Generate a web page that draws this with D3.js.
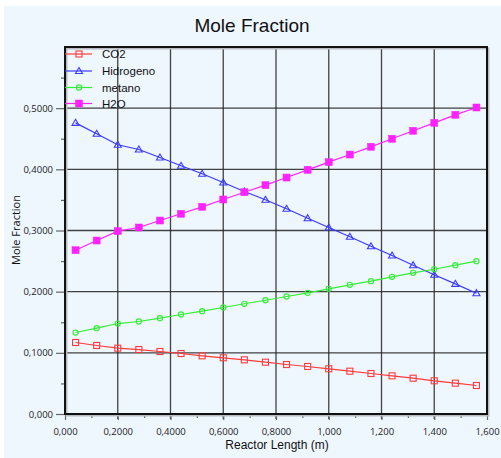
<!DOCTYPE html>
<html>
<head>
<meta charset="utf-8">
<script src="https://cdn.jsdelivr.net/npm/d3@7"></script>
<style>
  html, body { margin: 0; padding: 0; background: #ffffff; }
  svg { display: block; }
</style>
</head>
<body>
<svg id="chart" width="501" height="458"></svg>
<script>
// Reactor length positions (m)
const lengths = [0.04, 0.12, 0.20, 0.28, 0.36, 0.44, 0.52, 0.60, 0.68, 0.76,
                 0.84, 0.92, 1.00, 1.08, 1.16, 1.24, 1.32, 1.40, 1.48, 1.56];

// Mole fractions along the reactor
const co2 = [0.1169, 0.1120, 0.1076, 0.1054, 0.1022, 0.0989, 0.0951, 0.0919, 0.0886, 0.0847,
             0.0809, 0.0777, 0.0739, 0.0700, 0.0662, 0.0624, 0.0585, 0.0543, 0.0504, 0.0466];
const hidrogeno = [0.4760, 0.4581, 0.4401, 0.4324, 0.4193, 0.4058, 0.3927, 0.3785, 0.3637, 0.3502,
                   0.3355, 0.3201, 0.3049, 0.2897, 0.2743, 0.2591, 0.2433, 0.2276, 0.2128, 0.1975];
const metano = [0.1332, 0.1403, 0.1479, 0.1512, 0.1566, 0.1627, 0.1681, 0.1741, 0.1802, 0.1860,
                0.1921, 0.1981, 0.2047, 0.2112, 0.2171, 0.2243, 0.2308, 0.2367, 0.2433, 0.2498];
const h2o = [0.2678, 0.2836, 0.2989, 0.3049, 0.3163, 0.3273, 0.3387, 0.3507, 0.3626, 0.3741,
             0.3866, 0.3992, 0.4117, 0.4242, 0.4368, 0.4499, 0.4630, 0.4760, 0.4891, 0.5011];

const seriesNames = ["CO2", "Hidrogeno", "metano", "H2O"];

// Tick values and their labels
const xTicks = [0, 0.2, 0.4, 0.6, 0.8, 1.0, 1.2, 1.4, 1.6];
const xTickLabels = ["0,000", "0,2000", "0,4000", "0,6000", "0,8000", "1,000", "1,200", "1,400", "1,600"];
const yTicks = [0, 0.1, 0.2, 0.3, 0.4, 0.5];
const yTickLabels = ["0,000", "0,1000", "0,2000", "0,3000", "0,4000", "0,5000"];
const xMinor = [0.1, 0.3, 0.5, 0.7, 0.9, 1.1, 1.3, 1.5];
const yMinor = [0.05, 0.15, 0.25, 0.35, 0.45, 0.55];

const styles = {
  "CO2":       { color: "#ff3b3b", marker: "openSquare" },
  "Hidrogeno": { color: "#3a3aff", marker: "openTriangle" },
  "metano":    { color: "#33ee33", marker: "openCircle" },
  "H2O":       { color: "#ff22ff", marker: "filledSquare" }
};
const valuesByName = { "CO2": co2, "Hidrogeno": hidrogeno, "metano": metano, "H2O": h2o };

const svg = d3.select("#chart");
const W = 501, H = 458;
const plot = { left: 65, top: 47, right: 487, bottom: 414 };

// Panel background
svg.append("rect").attr("x", 4).attr("y", 6).attr("width", W - 4).attr("height", H - 6)
  .attr("fill", "#eef6fe");

const x = d3.scaleLinear().domain([0, 1.6]).range([plot.left, plot.right]);
const y = d3.scaleLinear().domain([0, 0.6]).range([plot.bottom, plot.top]);

// Title
svg.append("text").attr("x", 252).attr("y", 32).attr("text-anchor", "middle")
  .attr("font-family", "Liberation Sans, Arial, sans-serif").attr("font-size", 19)
  .attr("fill", "#111").text("Mole Fraction");

// Grid lines
const grid = svg.append("g").attr("stroke", "#222").attr("stroke-opacity", 0.85).attr("stroke-width", 1.3);
grid.selectAll("line.v").data(xTicks.slice(1, -1)).join("line")
  .attr("x1", d => x(d)).attr("x2", d => x(d)).attr("y1", plot.top).attr("y2", plot.bottom + 5);
grid.selectAll("line.h").data(yTicks.slice(1)).join("line")
  .attr("x1", plot.left).attr("x2", plot.right).attr("y1", d => y(d)).attr("y2", d => y(d));

// Axes
const xAxis = d3.axisBottom(x).tickValues(xTicks).tickSize(6).tickPadding(8)
  .tickFormat((d, i) => xTickLabels[i]);
const xAxisMinor = d3.axisBottom(x).tickValues(xMinor).tickSize(4).tickFormat("");
const yAxis = d3.axisLeft(y).tickValues(yTicks).tickSize(9).tickPadding(3)
  .tickFormat((d, i) => yTickLabels[i]);
const yAxisMinor = d3.axisLeft(y).tickValues(yMinor).tickSize(4).tickFormat("");

function styleAxis(g) {
  g.select(".domain").remove();
  g.selectAll(".tick line").attr("stroke", "#666").attr("stroke-width", 1.2);
  g.selectAll(".tick text").attr("fill", "#222")
    .attr("font-family", "Open Sans, Noto Sans, sans-serif").attr("font-size", 9.5);
}
svg.append("g").attr("transform", `translate(0,${plot.bottom})`).call(xAxis).call(styleAxis);
svg.append("g").attr("transform", `translate(0,${plot.bottom})`).call(xAxisMinor).call(styleAxis);
svg.append("g").attr("transform", `translate(${plot.left},0)`).call(yAxis).call(styleAxis);
svg.append("g").attr("transform", `translate(${plot.left},0)`).call(yAxisMinor).call(styleAxis);

// Frame with a soft shadow
svg.append("rect").attr("x", plot.left + 1.5).attr("y", plot.top + 1.5)
  .attr("width", plot.right - plot.left).attr("height", plot.bottom - plot.top)
  .attr("fill", "none").attr("stroke", "#b8bcc2").attr("stroke-width", 2);
svg.append("rect").attr("x", plot.left).attr("y", plot.top)
  .attr("width", plot.right - plot.left).attr("height", plot.bottom - plot.top)
  .attr("fill", "none").attr("stroke", "#111").attr("stroke-width", 2);

// Axis titles
svg.append("text").attr("x", 277).attr("y", 448.5).attr("text-anchor", "middle")
  .attr("font-family", "Liberation Sans, Arial, sans-serif").attr("font-size", 12)
  .attr("fill", "#111").text("Reactor Length (m)");
svg.append("text").attr("transform", "translate(20,230) rotate(-90)").attr("text-anchor", "middle")
  .attr("font-family", "Open Sans, Noto Sans, sans-serif").attr("font-size", 11)
  .attr("fill", "#111").text("Mole Fraction");

// Marker drawing
function drawMarker(g, kind, color, cx, cy) {
  if (kind === "openSquare") {
    g.append("rect").attr("x", cx - 3).attr("y", cy - 3).attr("width", 6).attr("height", 6)
      .attr("fill", "none").attr("stroke", color).attr("stroke-width", 1.1);
  } else if (kind === "filledSquare") {
    g.append("rect").attr("x", cx - 3.5).attr("y", cy - 3.5).attr("width", 7).attr("height", 7)
      .attr("fill", color).attr("stroke", color).attr("stroke-width", 0.5);
  } else if (kind === "openTriangle") {
    g.append("path").attr("d", `M${cx},${cy - 3.5}L${cx + 3.5},${cy + 2.5}L${cx - 3.5},${cy + 2.5}Z`)
      .attr("fill", "none").attr("stroke", color).attr("stroke-width", 1.1);
  } else if (kind === "openCircle") {
    g.append("circle").attr("cx", cx).attr("cy", cy).attr("r", 2.6)
      .attr("fill", "none").attr("stroke", color).attr("stroke-width", 1.1);
  }
}

// Series lines and markers
const line = d3.line().x((d, i) => x(lengths[i])).y(d => y(d));
seriesNames.forEach(name => {
  const st = styles[name];
  const vals = valuesByName[name];
  const g = svg.append("g");
  g.append("path").datum(vals).attr("d", line).attr("fill", "none")
    .attr("stroke", st.color).attr("stroke-width", 1.2);
  vals.forEach((v, i) => drawMarker(g, st.marker, st.color, x(lengths[i]), y(v)));
});

// Legend
const legendY = [54, 71, 87.5, 103.5];
seriesNames.forEach((name, i) => {
  const st = styles[name];
  const g = svg.append("g");
  g.append("line").attr("x1", 65).attr("x2", 92).attr("y1", legendY[i]).attr("y2", legendY[i])
    .attr("stroke", st.color).attr("stroke-width", 1.2);
  drawMarker(g, st.marker, st.color, 79, legendY[i]);
  g.append("text").attr("x", 102).attr("y", legendY[i] + 4)
    .attr("font-family", "Liberation Sans, Arial, sans-serif").attr("font-size", 11.5)
    .attr("fill", "#111").text(name);
});
</script>
</body>
</html>
